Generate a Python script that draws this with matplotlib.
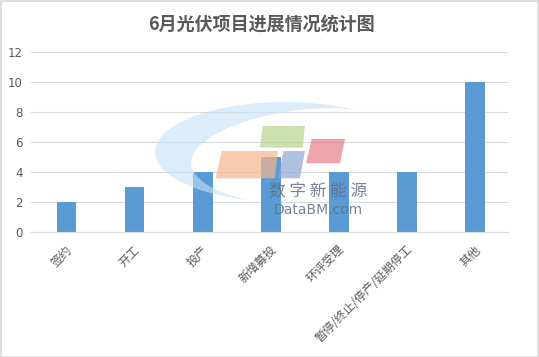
import matplotlib
matplotlib.use("Agg")
import matplotlib.pyplot as plt
from matplotlib.patches import Polygon, Rectangle
import numpy as np

plt.rcParams['font.family'] = ['Noto Sans CJK SC', 'DejaVu Sans']

categories = ['签约', '开工', '投产', '新增募投', '环评受理', '暂停/终止/停产/延期停工', '其他']
counts = [2, 3, 4, 5, 4, 4, 10]
yticks = [0, 2, 4, 6, 8, 10, 12]

W, H = 539, 357
fig = plt.figure(figsize=(W / 100, H / 100), dpi=100)
ax = fig.add_axes([31 / W, 1 - 232 / H, 477 / W, 180 / H])

x = np.arange(len(categories))
ax.bar(x + 0.02, counts, width=0.29, color='#5b9bd5', zorder=2)

ax.set_xlim(-0.5, len(categories) - 0.5)
ax.set_ylim(0, 12)
ax.set_yticks(yticks)
ax.set_yticklabels([str(v) for v in yticks], fontsize=8.5, color='#595959',
                   family=['DejaVu Sans'])
ax.set_xticks(x)
ax.set_xticklabels(categories, rotation=45, ha='right', va='top',
                   rotation_mode='anchor', fontsize=8.5, color='#595959')
ax.tick_params(length=0, pad=8)
ax.tick_params(axis='y', pad=6)
ax.grid(axis='y', color='#d9d9d9', linewidth=0.8, zorder=0)
for s in ['top', 'right', 'left']:
    ax.spines[s].set_visible(False)
ax.spines['bottom'].set_color('#d9d9d9')

fig.text(0.485, 1 - 24 / H, '6月光伏项目进展情况统计图', ha='center', va='center',
         fontsize=13, fontweight='bold', color='#595959')

# figure border
fig.patches.append(Rectangle((0.001, 0.001), 0.997, 0.997, transform=fig.transFigure,
                             fill=False, edgecolor='#d9d9d9', linewidth=1.2))


# watermark, drawn in pixel coordinates of the figure
def px(pts):
    return [(a / W, 1 - b / H) for a, b in pts]


t = np.linspace(np.radians(58), np.radians(255), 80)
thick = np.sin((t - t[0]) / (t[-1] - t[0]) * np.pi)
outer = [(285 + 130 * np.cos(a), 152 - 50 * np.sin(a)) for a in t]
inner = [(285 + 130 * np.cos(a) * (1 - 0.17 * k) + 18 * k,
          152 - 50 * np.sin(a) * (1 - 0.25 * k) + 5 * k) for a, k in zip(t, thick)]
fig.patches.append(Polygon(px(outer + inner[::-1]), closed=True, transform=fig.transFigure,
                           facecolor='#c7e0f5', edgecolor='none', alpha=0.6, zorder=5))

shapes = [
    ([(262.7, 126), (305, 126), (302.7, 147.7), (260, 147.7)], '#b7d58a'),
    ([(221.7, 151), (277.7, 151), (275, 178.3), (215.7, 178.3)], '#f6b58c'),
    ([(283.3, 151), (305, 151), (300, 178.3), (278.3, 178.3)], '#8fa6d2'),
    ([(311.7, 139), (345, 139), (340, 163.3), (306, 163.3)], '#e67f88'),
]
for pts, c in shapes:
    fig.patches.append(Polygon(px(pts), closed=True, transform=fig.transFigure,
                               facecolor=c, edgecolor='none', alpha=0.7, zorder=5))

fig.text(318 / W, 1 - 191 / H, '数 字 新 能 源', ha='center', va='center',
         fontsize=12, color='#5f6f86', alpha=0.85, zorder=6)
fig.text(318 / W, 1 - 210 / H, 'DataBM.com', ha='center', va='center',
         fontsize=10, color='#5f6f86', alpha=0.85, family=['DejaVu Sans'], zorder=6)

fig.savefig('out.png', dpi=100)
